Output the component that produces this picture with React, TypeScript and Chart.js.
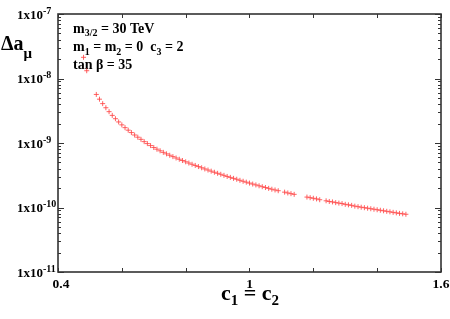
import { useEffect, useRef } from "react";
import { Chart, registerables } from "chart.js";

Chart.register(...registerables);

// c1 = c2 values (x)
const cValues = [
  0.48, 0.49,
  0.52, 0.53, 0.54, 0.55, 0.56, 0.57, 0.58, 0.59, 0.60, 0.61, 0.62, 0.63, 0.64, 0.65,
  0.66, 0.67, 0.68, 0.69, 0.70, 0.71, 0.72, 0.73, 0.74, 0.75, 0.76, 0.77, 0.78, 0.79,
  0.80, 0.81, 0.82, 0.83, 0.84, 0.85, 0.86, 0.87, 0.88, 0.89, 0.90, 0.91, 0.92, 0.93,
  0.94, 0.95, 0.96, 0.97, 0.98, 0.99, 1.00, 1.01, 1.02, 1.03, 1.04, 1.05, 1.06, 1.07,
  1.08, 1.09,
  1.11, 1.12, 1.13, 1.14,
  1.18, 1.19, 1.20, 1.21, 1.22,
  1.24, 1.25, 1.26, 1.27, 1.28, 1.29, 1.30, 1.31, 1.32, 1.33, 1.34, 1.35, 1.36, 1.37,
  1.38, 1.39, 1.40, 1.41, 1.42, 1.43, 1.44, 1.45, 1.46, 1.47, 1.48, 1.49,
];

// Delta a_mu values (y)
const deltaAmu = [
  2.13e-8, 1.32e-8,
  5.66e-9, 4.78e-9, 4.08e-9, 3.52e-9, 3.06e-9, 2.68e-9, 2.38e-9, 2.12e-9, 1.91e-9, 1.73e-9, 1.58e-9, 1.45e-9, 1.33e-9, 1.23e-9,
  1.14e-9, 1.05e-9, 9.79e-10, 9.12e-10, 8.51e-10, 8.02e-10, 7.57e-10, 7.16e-10, 6.79e-10, 6.46e-10, 6.15e-10, 5.86e-10, 5.60e-10, 5.35e-10,
  5.11e-10, 4.89e-10, 4.68e-10, 4.49e-10, 4.31e-10, 4.13e-10, 3.96e-10, 3.81e-10, 3.66e-10, 3.52e-10, 3.39e-10, 3.27e-10, 3.15e-10, 3.03e-10,
  2.93e-10, 2.83e-10, 2.74e-10, 2.64e-10, 2.55e-10, 2.47e-10, 2.39e-10, 2.31e-10, 2.24e-10, 2.17e-10, 2.10e-10, 2.04e-10, 1.98e-10, 1.92e-10,
  1.87e-10, 1.82e-10,
  1.73e-10, 1.68e-10, 1.64e-10, 1.60e-10,
  1.45e-10, 1.42e-10, 1.39e-10, 1.36e-10, 1.32e-10,
  1.27e-10, 1.24e-10, 1.22e-10, 1.19e-10, 1.17e-10, 1.15e-10, 1.12e-10, 1.10e-10, 1.08e-10, 1.05e-10, 1.03e-10, 1.01e-10, 9.93e-11, 9.75e-11,
  9.57e-11, 9.40e-11, 9.23e-11, 9.06e-11, 8.89e-11, 8.73e-11, 8.57e-11, 8.41e-11, 8.26e-11, 8.11e-11, 7.98e-11, 7.85e-11,
];

const xTickValues = [0.4, 0.6, 0.8, 1.0, 1.2, 1.4, 1.6];
const xLabelValues = [0.4, 1.0, 1.6];
const xLabelTexts = ["0.4", "1", "1.6"];
const yDecadeExponents = [-7, -8, -9, -10, -11];

const FONT = "'Liberation Serif', 'Times New Roman', serif";

type Part = [string, number, number]; // text, font size, baseline offset

function drawRich(ctx: CanvasRenderingContext2D, x: number, y: number, parts: Part[], align: "left" | "center" = "left") {
  ctx.save();
  ctx.textBaseline = "alphabetic";
  ctx.textAlign = "left";
  let total = 0;
  for (const [t, s] of parts) {
    ctx.font = `bold ${s}px ${FONT}`;
    total += ctx.measureText(t).width;
  }
  let cx = align === "center" ? x - total / 2 : x;
  for (const [t, s, dy] of parts) {
    ctx.font = `bold ${s}px ${FONT}`;
    ctx.fillText(t, cx, y + dy);
    cx += ctx.measureText(t).width;
  }
  ctx.restore();
}

const decorPlugin = {
  id: "decor",
  beforeDatasetsDraw(chart: any) {
    const ctx: CanvasRenderingContext2D = chart.ctx;
    ctx.save();
    ctx.fillStyle = "#000";
    drawRich(ctx, 73, 33, [["m", 14, 0], ["3/2", 10, 3], [" = 30 TeV", 14, 0]]);
    drawRich(ctx, 73, 51, [["m", 14, 0], ["1", 10, 4], [" = m", 14, 0], ["2", 10, 4], [" = 0  c", 14, 0], ["3", 10, 4], [" = 2", 14, 0]]);
    drawRich(ctx, 73, 69, [["tan β = 35", 14, 0]]);
    ctx.restore();
  },
  afterDraw(chart: any) {
    const ctx: CanvasRenderingContext2D = chart.ctx;
    const { left, right, top, bottom } = chart.chartArea;
    const xs = chart.scales.x;
    const ys = chart.scales.y;
    ctx.save();
    ctx.strokeStyle = "#333";
    ctx.lineWidth = 1.6;
    ctx.strokeRect(left, top, right - left, bottom - top);

    ctx.lineWidth = 1;
    ctx.beginPath();
    // x ticks
    for (const v of xTickValues) {
      const px = Math.round(xs.getPixelForValue(v)) + 0.5;
      ctx.moveTo(px, bottom);
      ctx.lineTo(px, bottom - 4);
      ctx.moveTo(px, top);
      ctx.lineTo(px, top + 4);
    }
    // y ticks
    for (const e of yDecadeExponents) {
      for (let m = 1; m <= 9; m++) {
        const v = m * Math.pow(10, e);
        if (v > 1.0001e-7) continue;
        const py = Math.round(ys.getPixelForValue(v)) + 0.5;
        const len = m === 1 ? 6 : 3;
        ctx.moveTo(left, py);
        ctx.lineTo(left + len, py);
        ctx.moveTo(right, py);
        ctx.lineTo(right - len, py);
      }
    }
    ctx.stroke();

    ctx.fillStyle = "#000";
    // y tick labels
    for (const e of yDecadeExponents) {
      const py = ys.getPixelForValue(Math.pow(10, e));
      drawRich(ctx, 17, py + 4.5, [["1x10", 13, 0], [String(e), 10, -5]]);
    }
    // x tick labels
    xLabelValues.forEach((v, i) => {
      const px = xs.getPixelForValue(v);
      drawRich(ctx, px + (i === 0 ? 3 : 0), 288, [[xLabelTexts[i], 13.5, 0]], "center");
    });
    // x title
    drawRich(ctx, 250, 300, [["c", 22, 0], ["1", 15, 5], [" = c", 22, 0], ["2", 15, 5]], "center");
    // y title
    drawRich(ctx, 1, 50, [["Δa", 20, 0], ["μ", 15, 8]]);
    ctx.restore();
  },
};

export default function App() {
  const ref = useRef<HTMLCanvasElement | null>(null);
  useEffect(() => {
    if (!ref.current) return;
    const points = cValues.map((c, i) => ({ x: c, y: deltaAmu[i] }));
    const chart = new Chart(ref.current, {
      type: "scatter",
      data: {
        datasets: [
          {
            data: points,
            pointStyle: "cross",
            pointRadius: 2.5,
            pointBorderWidth: 1,
            borderColor: "rgba(255,70,70,0.85)",
            backgroundColor: "rgba(255,70,70,0.85)",
          },
        ],
      },
      options: {
        animation: false,
        responsive: false,
        maintainAspectRatio: false,
        layout: { padding: { left: 58, top: 14, right: 9, bottom: 47 } },
        plugins: { legend: { display: false }, tooltip: { enabled: false } },
        scales: {
          x: { type: "linear", min: 0.4, max: 1.6, display: false },
          y: { type: "logarithmic", min: 1e-11, max: 1e-7, display: false },
        },
      },
      plugins: [decorPlugin],
    });
    return () => chart.destroy();
  }, []);
  return (
    <div style={{ position: "absolute", left: 0, top: 0, width: 450, height: 319, background: "#fff" }}>
      <canvas ref={ref} width={450} height={319} style={{ width: 450, height: 319 }} />
    </div>
  );
}
